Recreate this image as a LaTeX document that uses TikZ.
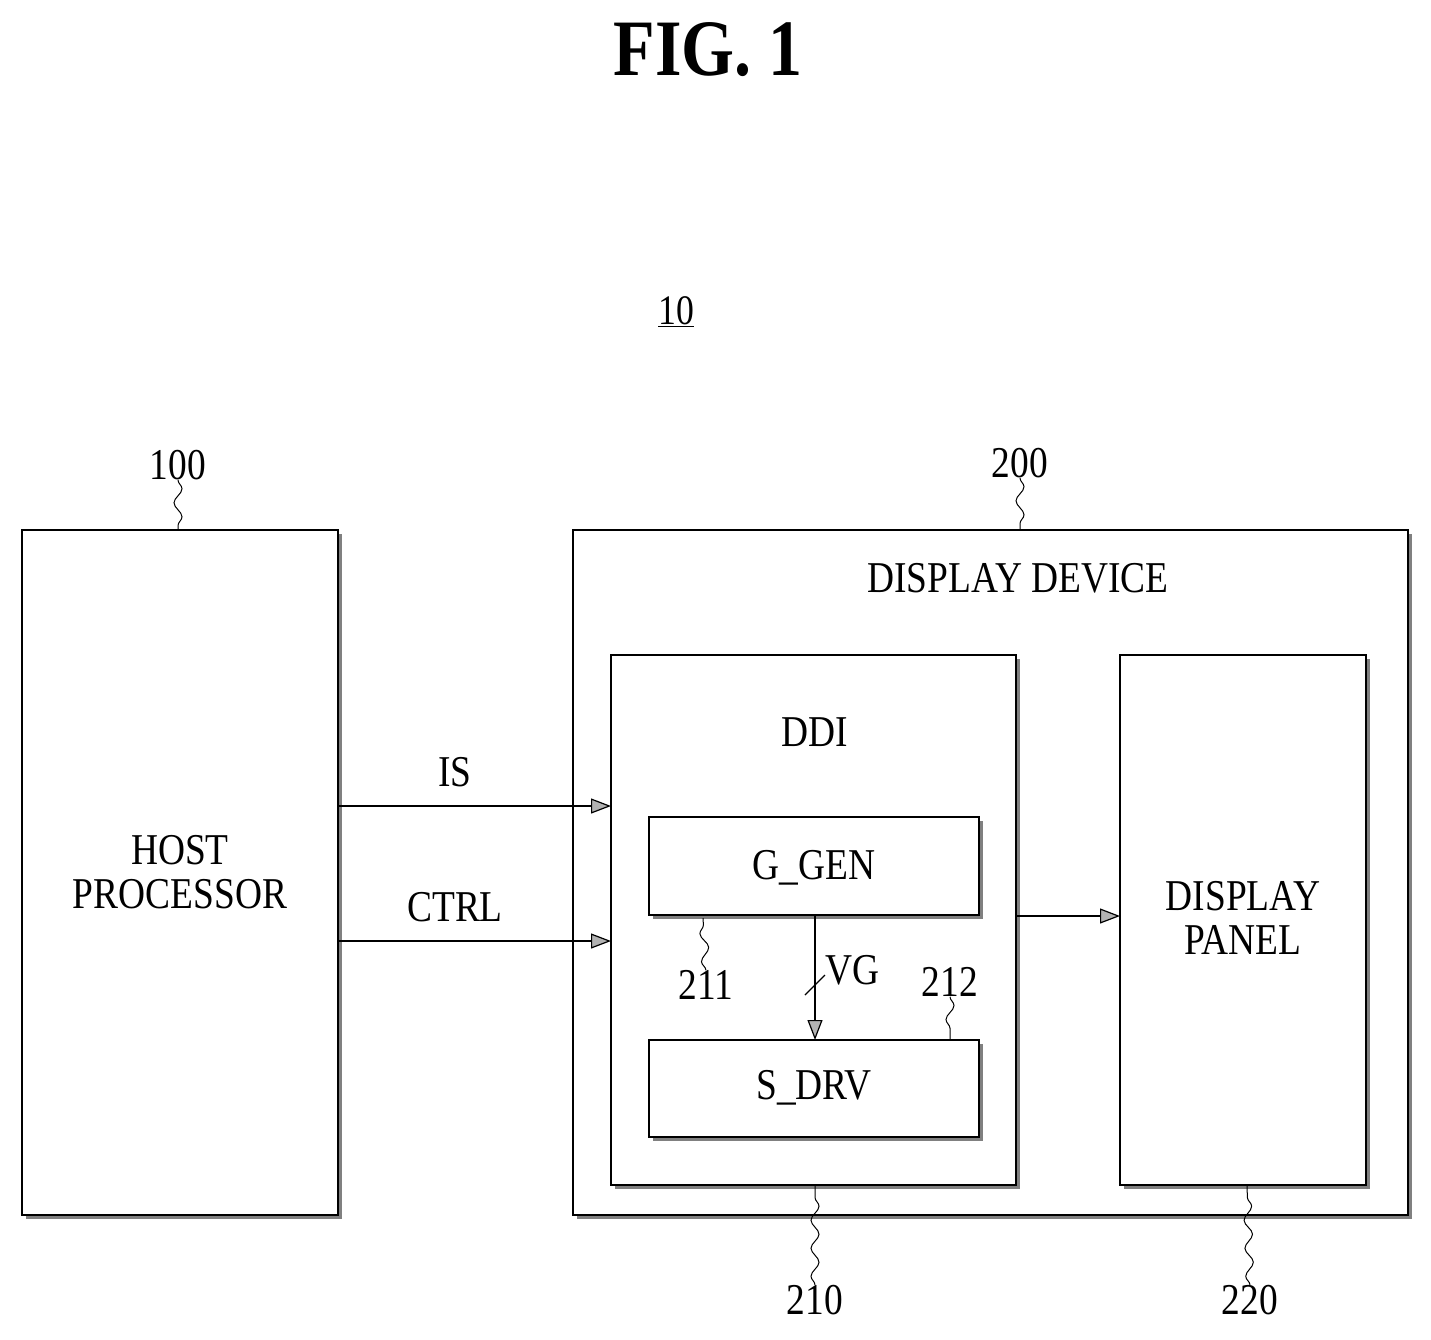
\documentclass[tikz,border=0pt]{standalone}
\usepackage{fontspec}
\setmainfont{Liberation Serif}[FakeStretch=0.85]
\usetikzlibrary{arrows.meta,decorations.pathmorphing}
\begin{document}
\begin{tikzpicture}[x=1pt,y=-1pt,
  box/.style={draw,line width=1.5pt},
  lbl/.style={font=\fontsize{44}{44}\selectfont,inner sep=0},
  arr/.style={-{Triangle[length=20pt,width=15pt,fill=gray!60]},line width=1.2pt},
  lead/.style={line width=1pt,decorate,decoration={snake,amplitude=4pt,segment length=28pt}}]
\useasboundingbox (0,0) rectangle (1431,1339);
\newcommand{\shbox}[5]{%
  \draw[gray,line width=3pt] (#1+4,#4+2) -- (#3+2,#4+2) -- (#3+2,#2+4);
  \draw[box] (#1,#2) rectangle (#3,#4);
  \coordinate (#5) at ({(#1+#3)/2},{(#2+#4)/2});}
\node[font=\bfseries\fontsize{80}{80}\selectfont] (fig) at (708,50) {FIG. 1};
\node[lbl,font=\fontsize{42}{42}\selectfont] (ten) at (676,312) {\underline{10}};
\shbox{22}{530}{338}{1215}{host}
\shbox{573}{530}{1408}{1215}{dev}
\shbox{611}{655}{1016}{1185}{ddi}
\shbox{1120}{655}{1366}{1185}{pan}
\shbox{649}{817}{979}{915}{ggen}
\shbox{649}{1040}{979}{1137}{sdrv}
\node[lbl,align=center] (hostt) at (180,872) {HOST\\PROCESSOR};
\node[lbl] (devt) at (1018,578) {DISPLAY DEVICE};
\node[lbl] (ddit) at (815,732) {DDI};
\node[lbl,align=center] (pant) at (1243,918) {DISPLAY\\PANEL};
\node[lbl] (ggent) at (814,868) {G\_GEN};
\node[lbl] (sdrvt) at (814,1088) {S\_DRV};
\coordinate (is1) at (338,806); \coordinate (is2) at (611,806);
\coordinate (c1) at (338,941); \coordinate (c2) at (611,941);
\coordinate (d1) at (1016,916); \coordinate (d2) at (1120,916);
\coordinate (v1) at (815,915); \coordinate (v2) at (815,1040);
\draw[arr] (is1) -- (is2);
\draw[arr] (c1) -- (c2);
\draw[arr] (d1) -- (d2);
\draw[arr] (v1) -- (v2);
\coordinate (s1) at (805,995); \coordinate (s2) at (825,975);
\draw[line width=1.2pt] (s1) -- (s2);
\node[lbl] (ist) at (455,772) {IS};
\node[lbl] (ctrlt) at (455,907) {CTRL};
\node[lbl] (vgt) at (852,970) {VG};
\node[lbl] (n100) at (178,465) {100};
\node[lbl] (n200) at (1020,463) {200};
\node[lbl] (n210) at (815,1300) {210};
\node[lbl] (n220) at (1250,1300) {220};
\node[lbl] (n211) at (706,985) {211};
\node[lbl] (n212) at (950,982) {212};
\coordinate (a100) at (178,530); \coordinate (a200) at (1020,530);
\coordinate (a210) at (815,1185); \coordinate (a220) at (1247,1185);
\coordinate (a211) at (703,918); \coordinate (a212) at (950,1040);
\draw[lead] (n100.south) -- (a100);
\draw[lead] (n200.south) -- (a200);
\draw[lead] (n210.north) -- (a210);
\draw[lead] (n220.north) -- (a220);
\draw[lead] (n211.north) -- (a211);
\draw[lead] (n212.south) -- (a212);
\end{tikzpicture}
\end{document}
